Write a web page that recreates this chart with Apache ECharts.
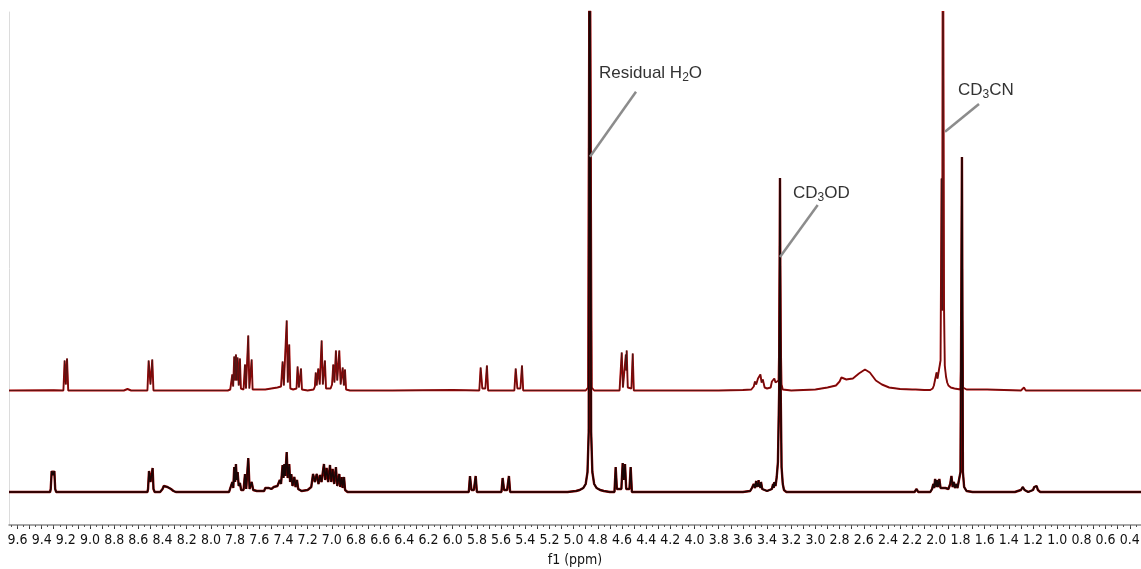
<!DOCTYPE html>
<html>
<head>
<meta charset="utf-8">
<script src="https://cdn.jsdelivr.net/npm/echarts@6/dist/echarts.min.js"></script>
<style>
html,body{margin:0;padding:0;background:#fff;}
#chart{width:1141px;height:569px;}
</style>
</head>
<body>
<div id="chart"></div>
<script>
// ---- data (ppm, intensity) ----
const tickLabels = [9.6,9.4,9.2,9.0,8.8,8.6,8.4,8.2,8.0,7.8,7.6,7.4,7.2,7.0,6.8,6.6,6.4,6.2,6.0,5.8,5.6,5.4,5.2,5.0,4.8,4.6,4.4,4.2,4.0,3.8,3.6,3.4,3.2,3.0,2.8,2.6,2.4,2.2,2.0,1.8,1.6,1.4,1.2,1.0,0.8,0.6,0.4];

// upper spectrum (intensity relative to its own baseline)
const topTrace = [
[9.67,0],[9.30,0.3],[9.22,0],[9.21,30],[9.20,6],[9.19,32],[9.18,0],
[8.72,0],[8.69,1.5],[8.66,0],
[8.525,0],[8.515,30],[8.50,6],[8.485,31],[8.475,0],
[7.86,0],[7.84,1],[7.83,2],[7.823,16],[7.816,4],[7.807,34],[7.80,10],[7.793,36],[7.786,10],[7.779,33],[7.77,5],[7.76,32],[7.752,2],[7.73,1],[7.718,26],[7.71,2],[7.70,2],[7.691,55],[7.682,2],[7.672,2],[7.663,31],[7.655,1],[7.63,1],
[7.55,1],[7.50,2],[7.45,3],[7.42,4],[7.407,29],[7.397,5],[7.388,6],[7.373,70],[7.364,8],[7.352,46],[7.343,2],[7.32,1],[7.292,2],[7.283,24],[7.272,3],[7.255,22],[7.247,1],[7.20,0],
[7.15,1],[7.14,4],[7.133,18],[7.125,5],[7.112,22],[7.10,6],[7.084,50],[7.074,6],[7.057,30],[7.048,2],[7.01,2],[6.998,6],[6.988,26],[6.978,8],[6.966,40],[6.955,10],[6.938,40],[6.927,6],[6.91,23],[6.90,5],[6.891,21],[6.882,1],[6.85,0],
[6.50,0],[6.00,0.5],
[5.78,0],[5.769,23],[5.755,2],[5.745,1],[5.73,2],[5.717,25],[5.707,0],
[5.49,0],[5.479,22],[5.465,2],[5.455,1],[5.44,2],[5.427,25],[5.417,0],
[4.90,0],[4.88,3],[4.868,600],[4.862,600],[4.85,3],[4.83,0],
[4.62,0],[4.612,2],[4.602,38],[4.592,3],[4.578,3],[4.568,36],[4.564,20],[4.561,40],[4.552,3],[4.522,2],[4.511,37],[4.502,0],
[4.30,0],[3.80,0],[3.60,0.5],
[3.53,1],[3.51,4],[3.50,9],[3.49,6],[3.475,12],[3.465,10],[3.455,16],[3.445,8],[3.435,11],[3.42,3],[3.40,2],[3.37,3],[3.36,9],[3.35,7],[3.34,12],[3.33,8],[3.32,10],
[3.305,10],[3.298,60],[3.293,131],[3.288,60],[3.28,6],[3.27,1],
[3.20,0],[3.00,1],[2.90,3],[2.83,5],[2.80,9],[2.785,13],[2.77,12],[2.744,11],[2.72,11.5],[2.69,12],[2.64,17],[2.59,21],[2.55,18],[2.50,10],[2.45,6],[2.39,3],[2.30,1.5],[2.20,1],[2.17,1],[2.163,3],[2.155,1],[2.10,0.5],[2.05,0.5],
[2.03,2],[2.02,5],[2.012,3],[2.005,7],[1.998,18],[1.99,12],[1.975,10],[1.965,30],[1.957,212],[1.951,80],[1.946,600],[1.941,600],[1.936,83],[1.93,25],[1.92,14],[1.91,8],[1.90,5],[1.88,3],[1.85,2],[1.80,1],
[1.792,3],[1.786,70],[1.78,3],[1.77,2],[1.75,1],[1.71,1],[1.70,3],[1.69,1],[1.60,1],[1.59,2],[1.58,1],
[1.30,0],[1.275,3],[1.26,0],[0.80,0],[0.307,0]
];

// lower spectrum (intensity relative to its own baseline)
const bottomTrace = [
[9.67,0],[9.33,0],[9.325,3],[9.317,21],[9.306,17],[9.295,21],[9.288,3],[9.28,0],
[8.525,0],[8.52,3],[8.512,21],[8.50,10],[8.482,24],[8.475,3],[8.465,0],
[8.42,0],[8.40,3],[8.39,6],[8.38,4],[8.36,5],[8.35,3],[8.33,3],[8.31,1],[8.29,0],
[7.85,0],[7.835,2],[7.823,10],[7.815,4],[7.807,25],[7.80,10],[7.793,28],[7.786,12],[7.779,20],[7.77,6],[7.76,9],[7.75,2],[7.73,2],[7.718,18],[7.708,3],[7.70,3],[7.691,34],[7.68,3],[7.672,3],[7.663,10],[7.65,2],[7.62,1],
[7.56,1],[7.55,4],[7.54,3],[7.52,4],[7.50,3],[7.48,5],[7.47,3],[7.45,6],[7.43,12],[7.42,8],[7.407,27],[7.40,14],[7.392,28],[7.385,16],[7.373,40],[7.365,14],[7.352,28],[7.345,10],[7.335,18],[7.325,6],[7.31,15],[7.30,5],[7.288,12],[7.278,3],[7.25,1],[7.20,2],
[7.17,5],[7.155,18],[7.14,10],[7.125,18],[7.11,8],[7.098,17],[7.085,10],[7.065,28],[7.055,12],[7.043,24],[7.03,10],[7.015,27],[7.005,10],[6.993,23],[6.98,8],[6.966,25],[6.955,6],[6.938,18],[6.93,5],[6.918,15],[6.91,4],[6.899,15],[6.89,2],[6.87,0],
[6.00,0],
[5.867,0],[5.857,16],[5.845,2],[5.825,2],[5.81,16],[5.80,0],
[5.597,0],[5.587,14],[5.575,2],[5.55,2],[5.535,16],[5.525,0],
[5.05,0],[4.98,1],[4.95,2],[4.92,4],[4.90,8],[4.885,20],[4.875,60],[4.868,600],[4.862,600],[4.855,60],[4.845,20],[4.83,8],[4.81,4],[4.78,2],[4.75,1],[4.70,0],
[4.662,0],[4.652,25],[4.642,3],[4.605,3],[4.594,29],[4.585,12],[4.575,28],[4.565,3],[4.538,3],[4.528,25],[4.518,0],
[3.60,0],[3.54,1],[3.525,4],[3.518,2],[3.51,8],[3.50,4],[3.49,11],[3.485,5],[3.48,9],[3.475,6],[3.47,12],[3.465,5],[3.46,8],[3.455,4],[3.45,10],[3.44,3],[3.43,2],[3.40,1],[3.36,3],[3.35,8],[3.345,4],[3.34,10],[3.33,6],[3.32,15],[3.31,30],[3.30,100],[3.293,314],[3.287,100],[3.28,25],[3.27,8],[3.26,2],[3.24,0],
[2.20,0],[2.18,0],[2.163,3],[2.15,0],[2.05,0],[2.035,3],[2.025,8],[2.018,4],[2.01,13],[2.00,5],[1.995,12],[1.985,5],[1.975,13],[1.965,4],[1.955,3],[1.945,4],[1.935,6],[1.925,4],[1.91,5],[1.90,3],[1.885,8],[1.875,16],[1.865,5],[1.855,10],[1.845,4],[1.835,8],[1.825,4],[1.81,5],[1.80,20],[1.788,335],[1.78,20],[1.77,5],[1.75,1],[1.70,0],
[1.35,0],[1.30,2],[1.285,5],[1.27,2],[1.24,0],[1.20,2],[1.19,5],[1.18,3],[1.17,6],[1.16,2],[1.14,0],[0.307,0]
];

const topOffset = 101.5;   // vertical stacking of the upper spectrum
const bottomOffset = 0;

// ---- build ----
const topData = topTrace.map(p => [p[0], p[1] + topOffset]);
const botData = bottomTrace.map(p => [p[0], p[1] + bottomOffset]);

const majorTicks = [];
for (let i = 96; i >= 4; i--) majorTicks.push(i / 10);
const minorTicks = [];
for (let i = 193; i >= 7; i--) minorTicks.push(i / 20);

const fontAxis = '"DejaVu Sans Condensed", "DejaVu Sans", sans-serif';
const fontNote = '"Liberation Sans", Arial, sans-serif';
const rich = {
  a: { fontSize: 17, color: '#333', fontFamily: fontNote, lineHeight: 22 },
  s: { fontSize: 12, color: '#333', fontFamily: fontNote, lineHeight: 12, verticalAlign: 'bottom', padding: [0, 0, 0, 0] }
};

function note(coord, text) {
  return {
    coord: coord, symbol: 'circle', symbolSize: 0,
    label: { show: true, position: [0, 0], align: 'left', verticalAlign: 'middle', formatter: text, rich: rich }
  };
}

const chart = echarts.init(document.getElementById('chart'), null, { renderer: 'canvas', width: 1141, height: 569 });
chart.setOption({
  animation: false,
  backgroundColor: '#fff',
  grid: { left: 9, right: 0, top: 12, bottom: 44, containLabel: false, outerBoundsMode: 'none' },
  xAxis: [{
    type: 'value', min: 0.307, max: 9.670, inverse: true,
    axisLine: { show: true, onZero: false, lineStyle: { color: '#8a8a8a', width: 1.5 } },
    axisTick: { show: true, customValues: majorTicks, length: 4, lineStyle: { color: '#333' } },
    axisLabel: { show: true, customValues: tickLabels, margin: 8, color: '#111', fontSize: 14, fontFamily: fontAxis,
      hideOverlap: false, formatter: v => v.toFixed(1) },
    splitLine: { show: false },
    name: 'f1 (ppm)', nameLocation: 'middle', nameGap: 28,
    nameTextStyle: { color: '#111', fontSize: 14, fontFamily: fontAxis }
  }, {
    type: 'value', min: 0.307, max: 9.670, inverse: true, position: 'bottom',
    axisLine: { show: false, onZero: false },
    axisTick: { show: true, customValues: minorTicks, length: 2, lineStyle: { color: '#555' } },
    axisLabel: { show: false }, splitLine: { show: false }
  }],
  yAxis: {
    type: 'value', min: -33, max: 480,
    axisLine: { show: true, onZero: false, lineStyle: { color: '#dcdcdc' } },
    axisTick: { show: false }, axisLabel: { show: false }, splitLine: { show: false }
  },
  series: [
    { type: 'line', data: topData, symbol: 'none', clip: true, lineStyle: { color: '#b00000', width: 1.9 }, z: 2 },
    { type: 'line', data: topData, symbol: 'none', clip: true, lineStyle: { color: '#222', width: 0.6 }, z: 3 },
    { type: 'line', data: botData, symbol: 'none', clip: true, lineStyle: { color: '#8b0000', width: 2.4 }, z: 2 },
    { type: 'line', data: botData, symbol: 'none', clip: true, lineStyle: { color: '#1a0505', width: 1.5 }, z: 3,
      markLine: {
        silent: true, symbol: ['none', 'none'], animation: false,
        lineStyle: { color: '#8c8c8c', width: 2.5, type: 'solid' },
        label: { show: false },
        data: [
          [{ coord: [4.865, 335.3] }, { coord: [4.484, 400.3] }],
          [{ coord: [3.293, 235] }, { coord: [2.981, 287] }],
          [{ coord: [1.928, 360.3] }, { coord: [1.647, 388] }]
        ]
      },
      markPoint: {
        silent: true, animation: false,
        data: [
          note([4.79, 419], '{a|Residual H}{s|2}{a|O}'),
          note([3.186, 299], '{a|CD}{s|3}{a|OD}'),
          note([1.821, 402], '{a|CD}{s|3}{a|CN}')
        ]
      }
    }
  ]
});
</script>
</body>
</html>
